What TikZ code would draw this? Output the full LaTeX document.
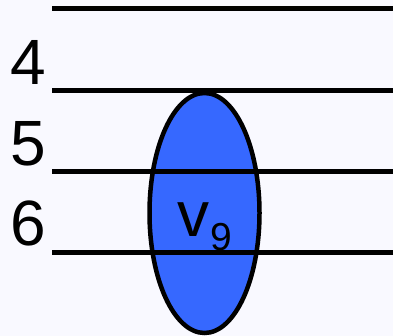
\documentclass[tikz,border=0pt]{standalone}
\usepackage{fontspec}
\setmainfont{Liberation Sans}
\usetikzlibrary{shapes.geometric}
\definecolor{bgc}{RGB}{249,249,255}
\definecolor{nodeblue}{RGB}{54,104,255}
\begin{document}
\begin{tikzpicture}[x=1pt,y=-1pt,
  level/.style={line width=5pt},
  lbl/.style={font=\fontsize{64}{64}\selectfont, anchor=base, inner sep=0pt},
  vnode/.style={ellipse, draw=black, line width=4.5pt, fill=nodeblue, minimum width=110pt, minimum height=240pt, inner sep=0pt}]
\fill[bgc] (0,0) rectangle (393,336);
\useasboundingbox (0,0) rectangle (393,336);
\node[vnode] (v9) at (204.5,213) {};
\node[inner sep=0pt, anchor=base west, font=\fontsize{64}{64}\selectfont] (v9l) at (177,237) {v\hspace{1pt}\raisebox{-14pt}{\fontsize{39}{39}\selectfont 9}};
\foreach \y/\n in {9/a,90.5/b,171.5/c,252.5/d}{
  \coordinate (\n1) at (52,\y);
  \coordinate (\n2) at (393,\y);
  \draw[level] (\n1) -- (\n2);
}
\node[lbl] (l4) at (28,85) {4};
\node[lbl] (l5) at (28,166) {5};
\node[lbl] (l6) at (28,246) {6};
\end{tikzpicture}
\end{document}
